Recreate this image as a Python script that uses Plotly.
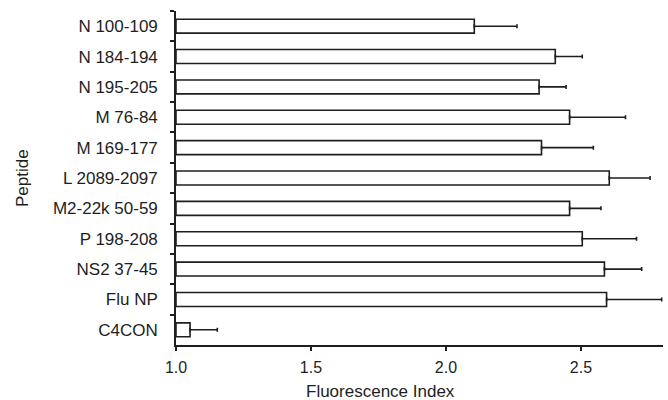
import plotly.graph_objects as go

peptides = ["N 100-109", "N 184-194", "N 195-205", "M 76-84", "M 169-177",
            "L 2089-2097", "M2-22k 50-59", "P 198-208", "NS2 37-45", "Flu NP", "C4CON"]
fluorescence_index = [2.105, 2.405, 2.345, 2.458, 2.354, 2.605, 2.458, 2.505, 2.587, 2.595, 1.052]
error_plus = [0.158, 0.100, 0.100, 0.207, 0.192, 0.151, 0.116, 0.201, 0.138, 0.204, 0.101]
x_ticks = [1.0, 1.5, 2.0, 2.5]
x_tick_labels = ["1.0", "1.5", "2.0", "2.5"]

base = 1.0
ink = "#1e1e1e"

fig = go.Figure(go.Bar(
    y=peptides,
    x=[v - base for v in fluorescence_index],
    base=base,
    orientation="h",
    width=0.46,
    marker=dict(color="white", line=dict(color=ink, width=1.6)),
    error_x=dict(type="data", symmetric=False, array=error_plus,
                 arrayminus=[0] * len(error_plus),
                 color=ink, thickness=1.6, width=2),
))

fig.update_layout(
    width=668, height=400,
    margin=dict(l=176, r=5, t=11, b=55),
    paper_bgcolor="white", plot_bgcolor="white",
    showlegend=False,
    font=dict(family="Liberation Sans, Arial, sans-serif", color=ink, size=16),
    xaxis=dict(
        range=[1.0, 2.804], tickvals=x_ticks, ticktext=x_tick_labels,
        ticks="outside", ticklen=4, tickwidth=1.5, tickcolor=ink,
        showline=True, linecolor=ink, linewidth=1.6,
        showgrid=False, zeroline=False,
        tickfont=dict(size=16),
        ticklabelstandoff=3,
    ),
    yaxis=dict(
        categoryorder="array", categoryarray=peptides,
        autorange="reversed",
        ticks="outside", ticklen=4, tickwidth=1.5, tickcolor=ink,
        tickson="boundaries",
        showline=True, linecolor=ink, linewidth=1.6,
        showgrid=False, zeroline=False,
        tickfont=dict(size=17),
        ticklabelstandoff=13,
    ),
    annotations=[
        dict(text="Fluorescence Index", xref="paper", yref="paper",
             x=(380 - 176) / (668 - 176 - 5), y=-(391 - 345) / (345 - 11),
             xanchor="center", yanchor="middle", showarrow=False,
             font=dict(size=17)),
        dict(text="Peptide", xref="paper", yref="paper",
             x=-(176 - 22) / (668 - 176 - 5), y=0.5, textangle=-90,
             xanchor="center", yanchor="middle", showarrow=False,
             font=dict(size=17)),
    ],
)

fig.write_html("out.html", config={"displayModeBar": False},
               post_script="document.body.style.margin='0';document.body.style.overflow='hidden';")
